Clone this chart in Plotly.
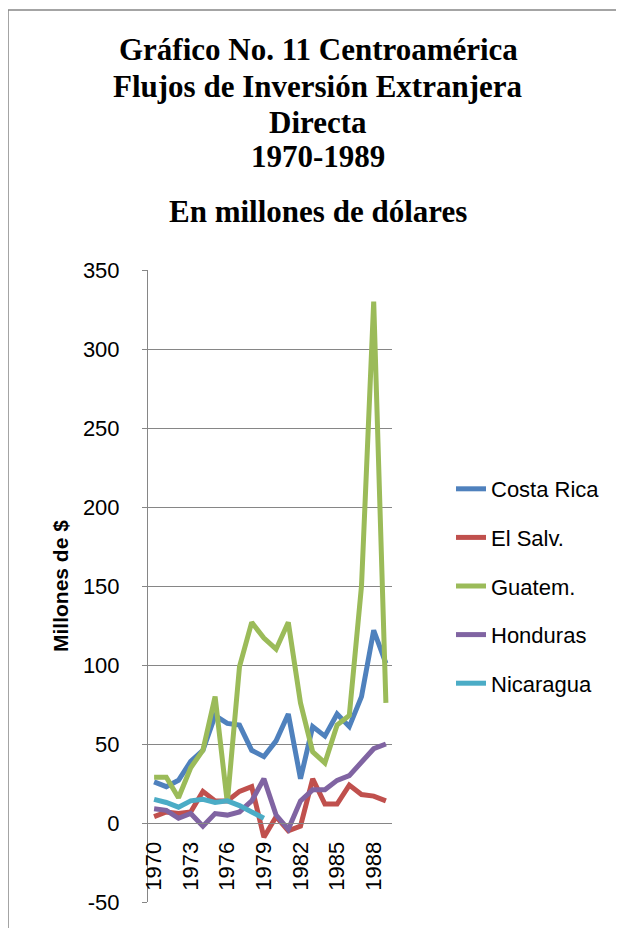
import plotly.graph_objects as go

years = list(range(1970, 1990))
costa_rica = [26, 23, 27, 39, 46, 68, 63, 62, 46, 42, 52, 69, 28, 61, 55, 69, 61, 80, 122, 101]
el_salv = [4, 7, 6, 7, 20, 14, 14, 20, 23, -9, 4, -5, -2, 28, 12, 12, 24, 18, 17, 14]
guatem = [29, 29, 16, 35, 46, 80, 13, 99, 127, 117, 110, 127, 76, 45, 38, 62, 68, 150, 330, 76]
honduras = [9, 8, 3, 6, -2, 6, 5, 7, 14, 28, 5, -4, 14, 21, 21, 27, 30, 38, 47, 50]
nicaragua = [15, 13, 10, 14, 15, 13, 14, 11, 7, 3]

series_names = ["Costa Rica", "El Salv.", "Guatem.", "Honduras", "Nicaragua"]
series_values = [costa_rica, el_salv, guatem, honduras, nicaragua]
colors = ["#4F81BD", "#C0504D", "#9BBB59", "#8064A2", "#4BACC6"]

title_lines = ["Gráfico No. 11 Centroamérica", "Flujos de Inversión Extranjera",
               "Directa", "1970-1989"]
subtitle = "En millones de dólares"
y_title = "Millones de $"
x_ticks = [1970, 1973, 1976, 1979, 1982, 1985, 1988]
y_ticks = [-50, 0, 50, 100, 150, 200, 250, 300, 350]
y_ticktext = ["-50", "0", "50", "100", "150", "200", "250", "300", "350"]

OFF = 8  # page body margin
W, H = 624 - OFF, 928 - OFF
L, R, T, B = 148 - OFF, 392 - OFF, 270 - OFF, 902 - OFF


def px(xp):
    return (xp - OFF - L) / (R - L)


def py(yp):
    return (B - (yp - OFF)) / (B - T)


fig = go.Figure()
for name, vals, col in zip(series_names, series_values, colors):
    fig.add_trace(go.Scatter(
        x=years[:len(vals)], y=vals, mode="lines", name=name,
        legendgroup=name,
        line=dict(color=col, width=5),
    ))

grid = "#868686"
fig.update_layout(
    width=W, height=H,
    margin=dict(l=L, r=W - R, t=T, b=H - B, pad=0),
    paper_bgcolor="white", plot_bgcolor="white",
    showlegend=True,
    legend=dict(x=px(451), xanchor="left", y=0.5, yanchor="middle",
                font=dict(family="Liberation Sans", size=22, color="black"),
                tracegroupgap=17, bgcolor="rgba(0,0,0,0)"),
    xaxis=dict(range=[1969.5, 1989.5], tickvals=x_ticks, tickangle=-90,
               anchor="free", position=py(823),
               showline=True, linecolor=grid, linewidth=1,
               showgrid=False, zeroline=False,
               ticks="outside", ticklen=0, ticklabelstandoff=9,
               tickfont=dict(family="Liberation Sans", size=22, color="black")),
    yaxis=dict(range=[-50, 350], tickvals=y_ticks, ticktext=y_ticktext,
               showgrid=True, gridcolor=grid,
               gridwidth=1, showline=True, linecolor=grid, linewidth=1,
               zeroline=False, ticks="outside", ticklen=5, tickcolor=grid,
               ticklabelstandoff=18,
               tickfont=dict(family="Liberation Sans", size=22, color="black")),
)

annotations = []
title_y = [50, 86, 122, 157]
for txt, yy in zip(title_lines, title_y):
    annotations.append(dict(text="<b>" + txt + "</b>", x=px(318), y=py(yy),
                            xref="paper", yref="paper", xanchor="center",
                            yanchor="middle", showarrow=False,
                            font=dict(family="Liberation Serif", size=31, color="black")))
annotations.append(dict(text="<b>" + subtitle + "</b>", x=px(318), y=py(212),
                        xref="paper", yref="paper", xanchor="center",
                        yanchor="middle", showarrow=False,
                        font=dict(family="Liberation Serif", size=31, color="black")))
annotations.append(dict(text="<b>" + y_title + "</b>", x=px(60), y=0.5,
                        xref="paper", yref="paper", xanchor="center",
                        yanchor="middle", showarrow=False, textangle=-90,
                        font=dict(family="Liberation Sans", size=21, color="black")))
fig.update_layout(annotations=annotations)

fig.add_shape(type="rect", xref="paper", yref="paper",
              x0=px(8), x1=px(700), y0=py(1000), y1=py(10),
              line=dict(color=grid, width=1.5), fillcolor="rgba(0,0,0,0)",
              layer="below")

fig.write_html("out.html")
